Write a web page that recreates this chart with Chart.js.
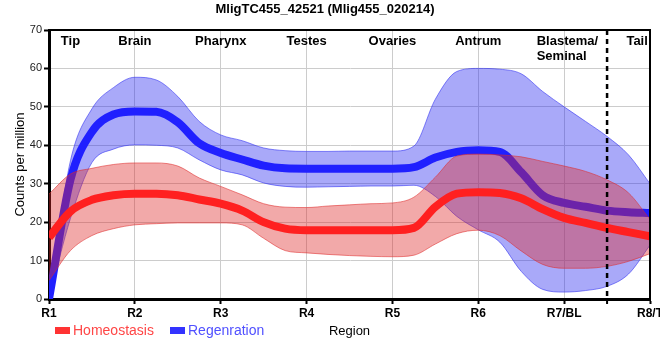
<!DOCTYPE html>
<html><head><meta charset="utf-8">
<script src="https://cdn.jsdelivr.net/npm/chart.js@4.4.1/dist/chart.umd.min.js"></script>
<style>html,body{margin:0;padding:0;background:#fff}#wrap{width:660px;height:360px}</style>
</head><body><div id="wrap"><canvas id="c" width="660" height="360"></canvas></div>
<script>
// ---- data ----
const chartTitle = 'MligTC455_42521 (Mlig455_020214)';
const regionTicks = ['R1', 'R2', 'R3', 'R4', 'R5', 'R6', 'R7/BL', 'R8/T'];
const regionNames = ['Tip', 'Brain', 'Pharynx', 'Testes', 'Ovaries', 'Antrum', ['Blastema/', 'Seminal'], 'Tail'];
const regionNamePos = [1.25, 2, 3, 4, 5, 6, 6.68, 7.85];
const tailBoundary = 7.5;
const seriesNames = ['Homeostasis', 'Regenration'];
// sample positions along the body axis (region units)
const positions = [1, 1.25, 1.5, 1.75, 2, 2.25, 2.5, 2.75, 3, 3.25, 3.5, 3.75, 4, 4.25, 4.5, 4.75,
                   5, 5.25, 5.5, 5.75, 6, 6.25, 6.5, 6.75, 7, 7.25, 7.5, 7.75, 8];
const homeoMean = [16.0, 22.8, 25.8, 27.0, 27.4, 27.4, 27.0, 25.9, 24.8, 23.0, 20.0, 18.3, 17.9, 17.9, 17.9, 17.9,
                   17.9, 18.5, 24.0, 27.4, 27.8, 27.6, 26.2, 23.4, 21.1, 19.8, 18.5, 17.4, 16.3];
const homeoHigh = [27.3, 32.5, 34.0, 35.0, 35.4, 35.4, 34.6, 31.5, 29.3, 27.1, 24.8, 23.9, 23.8, 24.2, 24.5, 24.8,
                   25.0, 26.5, 31.7, 37.2, 37.7, 37.5, 37.0, 35.8, 34.6, 33.2, 31.0, 27.6, 20.7];
const homeoLow  = [4.8, 12.6, 16.5, 18.3, 19.3, 19.6, 19.8, 19.8, 19.8, 19.3, 15.8, 12.6, 12.0, 11.6, 11.3, 11.1,
                   11.0, 11.4, 14.3, 17.0, 17.9, 16.5, 12.5, 9.0, 8.0, 8.0, 8.5, 9.8, 11.8];
const regenMean = [0.0, 31.0, 43.5, 48.0, 48.8, 48.7, 46.0, 40.5, 38.0, 36.3, 34.7, 34.0, 33.9, 33.9, 33.9, 33.9,
                   33.9, 34.3, 36.8, 38.3, 38.7, 38.3, 33.0, 27.0, 25.0, 24.0, 23.0, 22.6, 22.4];
const regenHigh = [0.5, 36.0, 49.5, 55.0, 57.7, 57.0, 52.7, 46.2, 42.7, 41.2, 39.3, 38.6, 38.4, 38.4, 38.5, 38.5,
                   38.5, 39.8, 52.0, 59.2, 60.0, 59.8, 58.6, 54.0, 50.0, 46.2, 42.3, 37.5, 30.0];
const regenLow  = [0.0, 21.0, 35.5, 39.0, 40.1, 40.0, 39.3, 36.2, 33.6, 32.3, 30.2, 29.3, 29.1, 29.2, 29.3, 29.4,
                   29.4, 29.6, 26.7, 21.5, 18.0, 14.8, 7.2, 2.5, 1.8, 2.2, 3.3, 6.5, 14.0];

// ---- chart ----
const FAM = "'Liberation Sans', Arial, sans-serif";
Chart.defaults.font.family = FAM;
const pts = arr => arr.map((v, i) => ({x: positions[i], y: v}));
const RED = '#ff2020', BLUE = '#2020ff';
const RED_BAND = 'rgba(222,40,40,0.4)', RED_EDGE = 'rgba(222,40,40,0.55)';
const BLUE_BAND = 'rgba(40,40,240,0.4)', BLUE_EDGE = 'rgba(40,40,240,0.55)';
const common = {pointRadius: 0, cubicInterpolationMode: 'monotone'};

const decor = {
  id: 'decor',
  afterDatasetsDraw(chart) {
    const {ctx, chartArea: a, scales: {x}} = chart;
    ctx.save();
    // dashed tail boundary
    const bx = x.getPixelForValue(tailBoundary);
    ctx.strokeStyle = '#000'; ctx.lineWidth = 2.5; ctx.setLineDash([5, 4]);
    ctx.beginPath(); ctx.moveTo(bx, a.top); ctx.lineTo(bx, a.bottom); ctx.stroke();
    ctx.setLineDash([]); ctx.lineWidth = 2;
    ctx.beginPath(); ctx.moveTo(bx, a.bottom); ctx.lineTo(bx, a.bottom + 5); ctx.stroke();
    // top and right frame
    ctx.lineWidth = 2;
    ctx.beginPath(); ctx.moveTo(a.left, a.top); ctx.lineTo(a.right, a.top); ctx.lineTo(a.right, a.bottom); ctx.stroke();
    ctx.restore();
  },
  afterDraw(chart) {
    const {ctx, chartArea: a, scales: {x}} = chart;
    ctx.save();
    // region names
    ctx.fillStyle = '#000'; ctx.font = 'bold 13px ' + FAM; ctx.textBaseline = 'middle';
    regionNames.forEach((n, i) => {
      const px = x.getPixelForValue(regionNamePos[i]);
      if (Array.isArray(n)) {
        ctx.textAlign = 'left';
        n.forEach((line, j) => ctx.fillText(line, px, a.top + 11 + j * 15));
      } else {
        ctx.textAlign = 'center';
        ctx.fillText(n, px, a.top + 11);
      }
    });
    // legend
    const items = [
      {label: seriesNames[0], box: '#ff3333', text: '#ff4646', x: 55},
      {label: seriesNames[1], box: '#3333ff', text: '#5050ff', x: 170}
    ];
    ctx.font = '14px ' + FAM; ctx.textAlign = 'left';
    items.forEach(it => {
      ctx.fillStyle = it.box; ctx.fillRect(it.x, 327, 15, 7);
      ctx.fillStyle = it.text; ctx.fillText(it.label, it.x + 18, 331);
    });
    ctx.restore();
  }
};

new Chart(document.getElementById('c'), {
  type: 'line',
  data: {
    datasets: [
      {label: seriesNames[0], data: pts(homeoMean), borderColor: RED, borderWidth: 8, fill: false, order: 1, ...common},
      {label: 'Homeostasis upper', data: pts(homeoHigh), borderColor: RED_EDGE, borderWidth: 1, backgroundColor: RED_BAND, fill: '+1', order: 2, ...common},
      {label: 'Homeostasis lower', data: pts(homeoLow), borderColor: RED_EDGE, borderWidth: 1, fill: false, order: 2, ...common},
      {label: seriesNames[1], data: pts(regenMean), borderColor: BLUE, borderWidth: 8, fill: false, order: 3, ...common},
      {label: 'Regenration upper', data: pts(regenHigh), borderColor: BLUE_EDGE, borderWidth: 1, backgroundColor: BLUE_BAND, fill: '+1', order: 4, ...common},
      {label: 'Regenration lower', data: pts(regenLow), borderColor: BLUE_EDGE, borderWidth: 1, fill: false, order: 4, ...common}
    ]
  },
  options: {
    responsive: false, animation: false, devicePixelRatio: 1,
    layout: {padding: {left: 0, right: 10, top: 0, bottom: 0}},
    plugins: {
      legend: {display: false}, tooltip: {enabled: false},
      title: {display: true, text: chartTitle, color: '#000', font: {size: 13, weight: 'bold'}, padding: {top: 1.2, bottom: 13.2}}
    },
    scales: {
      x: {
        type: 'linear', min: 1, max: 8,
        ticks: {stepSize: 1, autoSkip: false, maxRotation: 0, padding: 2, color: '#000', font: {size: 12, weight: 'bold'},
                callback: v => regionTicks[Math.round(v) - 1] || ''},
        grid: {color: '#cccccc', tickLength: 5, tickColor: '#000', tickWidth: 2},
        border: {color: '#000', width: 3},
        title: {display: true, text: 'Region', color: '#000', font: {size: 13}, padding: {top: 0, bottom: 20.7}},
        afterFit(s) { s.height = 61; s.paddingLeft = 0; s.paddingRight = 0; }
      },
      y: {
        min: 0, max: 70,
        ticks: {stepSize: 10, padding: 2, color: '#222', font: {size: 11}},
        grid: {color: '#cccccc', tickLength: 5, tickColor: '#000', tickWidth: 2},
        border: {color: '#000', width: 3},
        title: {display: true, text: 'Counts per million', color: '#000', font: {size: 13}, padding: {top: 12.2, bottom: 0}},
        afterFit(s) { s.width = 49; }
      }
    }
  },
  plugins: [decor]
});
</script></body></html>
